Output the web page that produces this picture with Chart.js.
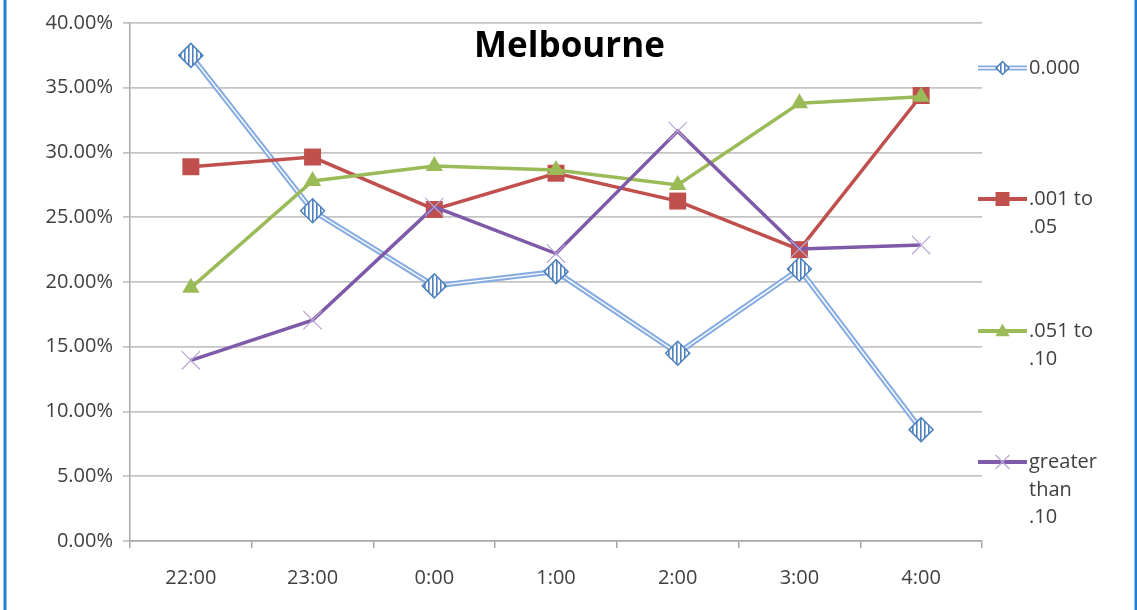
<!DOCTYPE html>
<html>
<head>
<meta charset="utf-8">
<title>Melbourne</title>
<script src="https://cdn.jsdelivr.net/npm/chart.js@4.4.1/dist/chart.umd.min.js"></script>
<style>
  html, body { margin: 0; padding: 0; background: #ffffff; }
  #wrap { position: relative; width: 1137px; height: 610px; }
</style>
</head>
<body>
<div id="wrap"><canvas id="chart"></canvas></div>
<script>
// Share of drivers (%) by hour, split by blood alcohol reading
const hours = ['22:00', '23:00', '0:00', '1:00', '2:00', '3:00', '4:00'];
const bacZero = [37.5, 25.5, 19.7, 20.8, 14.5, 21.0, 8.6];
const bacLow = [28.9, 29.65, 25.6, 28.4, 26.25, 22.5, 34.4];
const bacMid = [19.55, 27.8, 28.95, 28.65, 27.5, 33.8, 34.3];
const bacHigh = [13.95, 17.05, 25.8, 22.2, 31.65, 22.55, 22.85];
const seriesNames = [['0.000'], ['.001 to', '.05'], ['.051 to', '.10'], ['greater', 'than', '.10']];
const chartTitle = 'Melbourne';

const FONT = '"Open Sans", "Liberation Sans", sans-serif';
const TEXT = '#404040';
const BLUE_LINE = '#86ace0';
const BLUE_MARK = '#4f81bd';
const RED = '#c0504d';
const GREEN = '#9bbb59';
const PURPLE = '#7f5aa8';
const PURPLE_MARK = '#b9a6d3';

const canvas = document.getElementById('chart');
const ctx0 = canvas.getContext('2d');

// vertical hatching used to fill the diamond markers
function stripePattern(ctx) {
  const p = document.createElement('canvas');
  p.width = 4; p.height = 4;
  const g = p.getContext('2d');
  g.fillStyle = '#ffffff';
  g.fillRect(0, 0, 4, 4);
  g.fillStyle = BLUE_MARK;
  g.fillRect(0, 0, 1.6, 4);
  return ctx.createPattern(p, 'repeat');
}
const hatch = stripePattern(ctx0);

function drawMarker(ctx, kind, x, y, r) {
  ctx.save();
  ctx.beginPath();
  if (kind === 'diamond') {
    ctx.moveTo(x, y - r); ctx.lineTo(x + r, y); ctx.lineTo(x, y + r); ctx.lineTo(x - r, y); ctx.closePath();
    ctx.fillStyle = hatch; ctx.fill();
    ctx.strokeStyle = BLUE_MARK; ctx.lineWidth = 1.5; ctx.stroke();
  } else if (kind === 'square') {
    ctx.rect(x - r, y - r, 2 * r, 2 * r);
    ctx.fillStyle = RED; ctx.fill();
  } else if (kind === 'triangle') {
    ctx.moveTo(x, y - r); ctx.lineTo(x + r * 0.95, y + r * 0.7); ctx.lineTo(x - r * 0.95, y + r * 0.7); ctx.closePath();
    ctx.fillStyle = GREEN; ctx.fill();
  } else if (kind === 'cross') {
    ctx.moveTo(x - r, y - r); ctx.lineTo(x + r, y + r);
    ctx.moveTo(x + r, y - r); ctx.lineTo(x - r, y + r);
    ctx.strokeStyle = PURPLE_MARK; ctx.lineWidth = 1.2; ctx.stroke();
  }
  ctx.restore();
}

// left / right blue frame of the graphic
const framePlugin = {
  id: 'frame',
  beforeDraw(chart) {
    const { ctx, width, height } = chart;
    ctx.save();
    ctx.fillStyle = '#ffffff';
    ctx.fillRect(0, 0, width, height);
    ctx.fillStyle = '#1f80d2';
    ctx.fillRect(3.5, 0, 3, height);
    ctx.fillRect(width - 2.5, 0, 2.5, height);
    ctx.restore();
  }
};

// title sits inside the plotting area
const titlePlugin = {
  id: 'insideTitle',
  afterDatasetsDraw(chart) {
    const { ctx } = chart;
    ctx.save();
    ctx.font = 'bold 35px ' + FONT;
    ctx.fillStyle = '#000000';
    ctx.textAlign = 'center';
    ctx.textBaseline = 'alphabetic';
    ctx.fillText(chartTitle, chart.width / 2 + 1, 57);
    ctx.restore();
  }
};

// legend on the right with wrapped labels
const sideLegend = {
  id: 'sideLegend',
  afterDraw(chart) {
    const { ctx } = chart;
    const x0 = chart.chartArea.right - 4;
    const x1 = x0 + 49;
    const tx = x1 + 2;
    const rows = [68, 199, 331, 462];
    const kinds = ['diamond', 'square', 'triangle', 'cross'];
    const sizes = [6.5, 7, 7.5, 7];
    const colors = [BLUE_LINE, RED, GREEN, PURPLE];
    ctx.save();
    rows.forEach((y, i) => {
      ctx.beginPath();
      ctx.moveTo(x0, y); ctx.lineTo(x1, y);
      if (i === 0) {
        ctx.strokeStyle = BLUE_LINE; ctx.lineWidth = 5; ctx.stroke();
        ctx.strokeStyle = '#ffffff'; ctx.lineWidth = 1.4; ctx.stroke();
      } else {
        ctx.strokeStyle = colors[i]; ctx.lineWidth = 4; ctx.stroke();
      }
      drawMarker(ctx, kinds[i], (x0 + x1) / 2, y, sizes[i]);
      ctx.font = '20px ' + FONT;
      ctx.fillStyle = '#404040';
      ctx.textAlign = 'left';
      ctx.textBaseline = 'middle';
      seriesNames[i].forEach((line, k) => ctx.fillText(line, tx, y + k * 27.8));
    });
    ctx.restore();
  }
};

const zeroName = seriesNames[0].join(' ');
new Chart(canvas, {
  type: 'line',
  data: {
    labels: hours,
    datasets: [
      { label: seriesNames[3].join(' '), data: bacHigh, order: 0, borderColor: PURPLE, borderWidth: 3.5,
        pointStyle: 'crossRot', pointRadius: 13, pointBorderColor: PURPLE_MARK, pointBorderWidth: 1.2,
        pointBackgroundColor: PURPLE_MARK },
      { label: seriesNames[2].join(' '), data: bacMid, order: 1, borderColor: GREEN, borderWidth: 3.5,
        pointStyle: 'triangle', pointRadius: 10, pointBackgroundColor: GREEN, pointBorderColor: GREEN, pointBorderWidth: 0 },
      { label: seriesNames[1].join(' '), data: bacLow, order: 2, borderColor: RED, borderWidth: 3.5,
        pointStyle: 'rect', pointRadius: 12, pointBackgroundColor: RED, pointBorderColor: RED, pointBorderWidth: 0 },
      { label: zeroName, data: bacZero, order: 3, showLine: false,
        pointStyle: 'rectRot', pointRadius: 12, pointBackgroundColor: hatch, pointBorderColor: BLUE_MARK, pointBorderWidth: 1.5 },
      { label: zeroName + ' core', data: bacZero, order: 4, borderColor: '#ffffff', borderWidth: 1.4, pointRadius: 0 },
      { label: zeroName + ' line', data: bacZero, order: 5, borderColor: BLUE_LINE, borderWidth: 5.5, pointRadius: 0 }
    ]
  },
  options: {
    responsive: true,
    maintainAspectRatio: false,
    animation: false,
    events: [],
    layout: { padding: { left: 0, right: 155, top: 23, bottom: 0 } },
    elements: { line: { tension: 0, fill: false, borderJoinStyle: 'miter' } },
    plugins: { legend: { display: false }, title: { display: false }, tooltip: { enabled: false } },
    scales: {
      x: {
        offset: true,
        grid: { offset: true, drawOnChartArea: false, drawTicks: true, tickLength: 7, color: '#a8a8a8', lineWidth: 1.5 },
        border: { display: true, color: '#a8a8a8', width: 1.5 },
        ticks: { color: TEXT, font: { family: FONT, size: 20 }, padding: 18, maxRotation: 0 },
        afterFit(s) { s.height = 69; }
      },
      y: {
        min: 0, max: 40,
        grid: { color: '#c4c4c4', lineWidth: 1.8, tickLength: 7, drawTicks: true },
        border: { display: true, color: '#a8a8a8', width: 1.5 },
        ticks: { stepSize: 5, color: TEXT, font: { family: FONT, size: 20 }, padding: 10,
          callback: v => v.toFixed(2) + '%' },
        afterFit(s) { s.width = 130; }
      }
    }
  },
  plugins: [framePlugin, titlePlugin, sideLegend]
});
</script>
</body>
</html>
